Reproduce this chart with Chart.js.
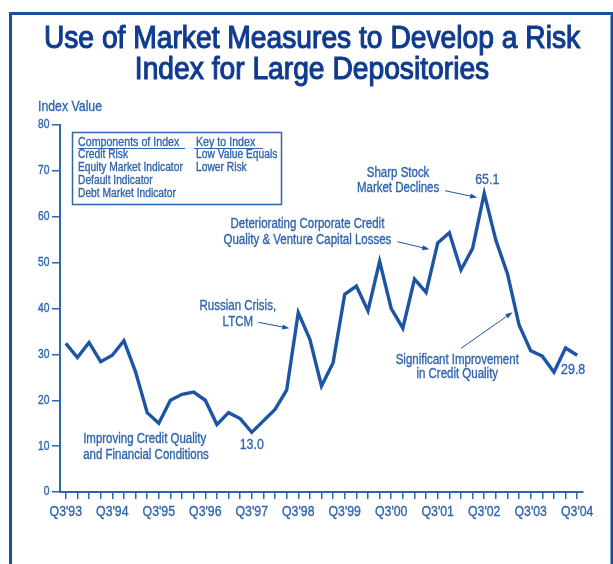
<!DOCTYPE html>
<html>
<head>
<meta charset="utf-8">
<script src="https://cdn.jsdelivr.net/npm/chart.js@4/dist/chart.umd.min.js"></script>
<style>
  html, body { margin: 0; padding: 0; background: #fff; }
  canvas { display: block; }
</style>
</head>
<body>
<canvas id="riskchart" width="613" height="564"></canvas>
<script>
// quarterly risk index, Q3 1993 to Q3 2004
const quarters = [
  "Q3'93", "Q4'93",
  "Q1'94", "Q2'94", "Q3'94", "Q4'94",
  "Q1'95", "Q2'95", "Q3'95", "Q4'95",
  "Q1'96", "Q2'96", "Q3'96", "Q4'96",
  "Q1'97", "Q2'97", "Q3'97", "Q4'97",
  "Q1'98", "Q2'98", "Q3'98", "Q4'98",
  "Q1'99", "Q2'99", "Q3'99", "Q4'99",
  "Q1'00", "Q2'00", "Q3'00", "Q4'00",
  "Q1'01", "Q2'01", "Q3'01", "Q4'01",
  "Q1'02", "Q2'02", "Q3'02", "Q4'02",
  "Q1'03", "Q2'03", "Q3'03", "Q4'03",
  "Q1'04", "Q2'04", "Q3'04"
];
const riskIndex = [
  32.4, 29.3,
  32.6, 28.4, 29.8, 33.0,
  26.2, 17.3, 15.0, 20.0,
  21.3, 21.8, 20.0, 14.7,
  17.3, 16.0, 13.0, 15.5,
  18.0, 22.2, 39.1, 33.3,
  23.1, 28.2, 43.1, 44.9,
  39.5, 50.3, 40.0, 35.7,
  46.4, 43.5, 54.3, 56.5,
  48.4, 53.1, 65.1, 54.9,
  47.6, 36.4, 30.8, 29.6,
  26.1, 31.4, 29.8
];
const yTicks = [0, 10, 20, 30, 40, 50, 60, 70, 80];

const titleLines = ["Use of Market Measures to Develop a Risk", "Index for Large Depositories"];
const componentsList = ["Credit Risk", "Equity Market Indicator", "Default Indicator", "Debt Market Indicator"];
const keyList = ["Low Value Equals", "Lower Risk"];

// callouts, placed in [quarter index, index value]
const calloutText = [
  ["Sharp Stock", 28.59, 69.6, "center"],
  ["Market Declines", 28.59, 66.2, "center"],
  ["Deteriorating Corporate Credit", 20.79, 58.35, "center"],
  ["Quality & Venture Capital Losses", 20.79, 54.93, "center"],
  ["Russian Crisis,", 14.8, 40.61, "center"],
  ["LTCM", 14.8, 37.06, "center"],
  ["Improving Credit Quality", 1.49, 11.49, "left"],
  ["and Financial Conditions", 1.49, 8.13, "left"],
  ["Significant Improvement", 33.68, 28.77, "center"],
  ["in Credit Quality", 33.68, 25.72, "center"]
];
const calloutArrows = [
  [32.63, 65.68, 35.39, 64.2],
  [28.53, 54.56, 31.28, 52.9],
  [16.56, 36.99, 19.23, 35.68],
  [34.01, 31.32, 38.43, 39.17]
];
// quarters whose value is printed next to the line
const valueLabels = [
  { i: 16, dx: 0, dy: 12 },
  { i: 36, dx: 3, dy: -14 },
  { i: 44, dx: -4, dy: 14 }
];

const FONT = '"Liberation Sans", Arial, sans-serif';
const NARROW = 0.82;
const NAVY = "#0f3c8f";
const BLUE = "#2f64ae";
const LINE = "#1d55a4";
const FRAME = "#1a4f9e";

// condensed text: regular face squeezed horizontally, with a hairline stroke for weight
function narrowText(ctx, text, x, y, size, align, squeeze) {
  ctx.save();
  ctx.font = size + "px " + FONT;
  ctx.textAlign = align;
  ctx.textBaseline = "middle";
  ctx.translate(x, y);
  ctx.scale(squeeze || NARROW, 1);
  ctx.lineWidth = 0.35;
  ctx.strokeStyle = ctx.fillStyle;
  ctx.fillText(text, 0, 0);
  ctx.strokeText(text, 0, 0);
  ctx.restore();
}

function arrow(ctx, x1, y1, x2, y2) {
  const a = Math.atan2(y2 - y1, x2 - x1);
  ctx.beginPath();
  ctx.moveTo(x1, y1);
  ctx.lineTo(x2 - 4 * Math.cos(a), y2 - 4 * Math.sin(a));
  ctx.stroke();
  ctx.beginPath();
  ctx.moveTo(x2, y2);
  ctx.lineTo(x2 - 7 * Math.cos(a) + 2.5 * Math.sin(a), y2 - 7 * Math.sin(a) - 2.5 * Math.cos(a));
  ctx.lineTo(x2 - 7 * Math.cos(a) - 2.5 * Math.sin(a), y2 - 7 * Math.sin(a) + 2.5 * Math.cos(a));
  ctx.closePath();
  ctx.fill();
}

const decorations = {
  id: "decorations",
  beforeDraw(chart) {
    const ctx = chart.ctx;
    ctx.save();
    ctx.strokeStyle = FRAME;
    ctx.lineWidth = 3;
    ctx.beginPath();
    ctx.moveTo(10.5, 600);
    ctx.lineTo(10.5, 13.5);
    ctx.lineTo(616, 13.5);
    ctx.stroke();
    ctx.beginPath();
    ctx.moveTo(612, 13.5);
    ctx.lineTo(612, 600);
    ctx.stroke();
    ctx.restore();
  },
  afterDraw(chart) {
    const ctx = chart.ctx;
    const xs = chart.scales.x, ys = chart.scales.y;
    const area = chart.chartArea;
    ctx.save();

    // title, emboldened
    ctx.fillStyle = NAVY;
    ctx.strokeStyle = NAVY;
    titleLines.forEach((t, k) => {
      ctx.save();
      ctx.font = "30.5px " + FONT;
      ctx.textAlign = "center";
      ctx.textBaseline = "middle";
      ctx.translate(312, 40 + k * 31);
      ctx.scale(0.925, 1);
      ctx.lineWidth = 1.1;
      ctx.fillText(t, 0, 0);
      ctx.strokeText(t, 0, 0);
      ctx.restore();
    });

    ctx.fillStyle = BLUE;
    ctx.strokeStyle = BLUE;

    // axis labels
    xs.ticks.forEach((t, k) => {
      if (t.label) narrowText(ctx, t.label, xs.getPixelForTick(k), area.bottom + 19.5, 15, "center");
    });
    ys.ticks.forEach((t, k) => {
      narrowText(ctx, t.label, area.left - 10.5, ys.getPixelForTick(k), 12.5, "right");
    });
    narrowText(ctx, "Index Value", 38, 107, 15, "left");

    // key box
    ctx.lineWidth = 1.5;
    ctx.strokeRect(72.5, 132.5, 209, 72);
    narrowText(ctx, "Components of Index", 78, 142, 13, "left");
    narrowText(ctx, "Key to Index", 196, 142, 13, "left");
    ctx.lineWidth = 1.2;
    ctx.beginPath();
    ctx.moveTo(78, 148.5); ctx.lineTo(185, 148.5);
    ctx.moveTo(194, 148.5); ctx.lineTo(263, 148.5);
    ctx.stroke();
    componentsList.forEach((t, k) => narrowText(ctx, t, 78, 155 + k * 13, 12.5, "left"));
    keyList.forEach((t, k) => narrowText(ctx, t, 196, 155 + k * 13, 12.5, "left"));

    // callouts
    calloutText.forEach(([t, qx, v, align]) => {
      narrowText(ctx, t, xs.getPixelForValue(qx), ys.getPixelForValue(v), 14, align);
    });
    ctx.lineWidth = 1;
    ctx.fillStyle = LINE;
    ctx.strokeStyle = LINE;
    calloutArrows.forEach(([qa, va, qb, vb]) => {
      arrow(ctx, xs.getPixelForValue(qa), ys.getPixelForValue(va),
                 xs.getPixelForValue(qb), ys.getPixelForValue(vb));
    });

    ctx.fillStyle = BLUE;
    valueLabels.forEach(({ i, dx, dy }) => {
      const v = riskIndex[i];
      narrowText(ctx, v.toFixed(1), xs.getPixelForValue(i) + dx, ys.getPixelForValue(v) + dy, 15.5, "center", 0.8);
    });
    ctx.restore();
  }
};

new Chart(document.getElementById("riskchart"), {
  type: "line",
  data: {
    labels: quarters,
    datasets: [
      {
        data: riskIndex,
        borderColor: LINE,
        borderWidth: 3.4,
        borderJoinStyle: "miter",
        pointRadius: 0,
        tension: 0,
        fill: false,
      },
    ],
  },
  options: {
    responsive: false,
    animation: false,
    layout: { padding: { left: 30, top: 125, right: 30, bottom: 32 } },
    plugins: { legend: { display: false }, tooltip: { enabled: false } },
    scales: {
      x: {
        type: "category",
        offset: true,
        afterFit: (s) => { s.height = 40; },
        grid: { drawOnChartArea: false, tickLength: 7, color: BLUE, lineWidth: 1.5 },
        border: { color: BLUE, width: 2 },
        ticks: {
          display: false,
          autoSkip: false,
          callback: (v, i) => (i % 4 === 0 ? quarters[i] : ""),
        },
      },
      y: {
        min: 0,
        max: 80,
        afterFit: (s) => { s.width = 30; },
        afterBuildTicks: (s) => { s.ticks = yTicks.map((v) => ({ value: v })); },
        grid: { drawOnChartArea: false, tickLength: 8, color: BLUE, lineWidth: 1.5 },
        border: { color: BLUE, width: 2 },
        ticks: { display: false },
      },
    },
  },
  plugins: [decorations],
});
</script>
</body>
</html>
